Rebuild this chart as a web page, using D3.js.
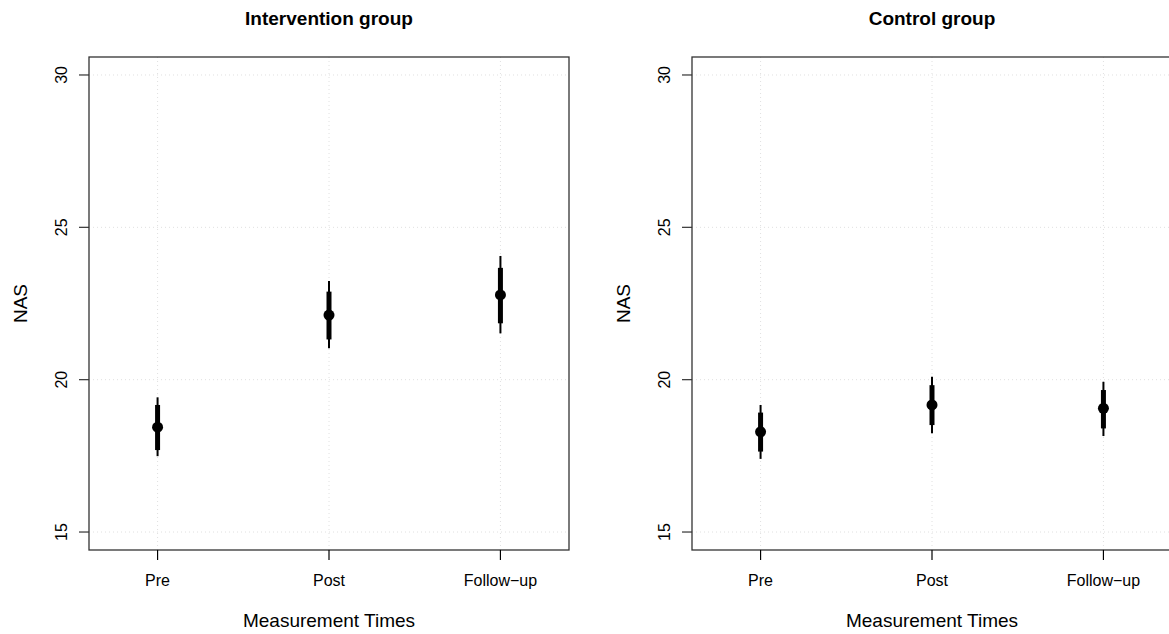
<!DOCTYPE html>
<html>
<head>
<meta charset="utf-8">
<script src="https://cdn.jsdelivr.net/npm/d3@7"></script>
<style>
    body { margin: 0; background: #fff; }
    svg text { font-family: "Liberation Sans", Arial, sans-serif; fill: #000; }
</style>
</head>
<body>
<svg id="chart" width="1169" height="634"></svg>
<script>
// measurement times (x categories)
const times = ["Pre", "Post", "Follow-up"];
const yTicks = [15, 20, 25, 30];

// group titles
const groups = ["Intervention group", "Control group"];

// point estimates
const means = [
    [18.44, 22.12, 22.78],
    [18.29, 19.17, 19.06]
];
// inner (thick) interval
const innerLo = [
    [17.69, 21.32, 21.85],
    [17.64, 18.51, 18.40]
];
const innerHi = [
    [19.17, 22.89, 23.67],
    [18.92, 19.82, 19.66]
];
// outer (thin) interval
const outerLo = [
    [17.49, 21.03, 21.52],
    [17.40, 18.24, 18.15]
];
const outerHi = [
    [19.42, 23.24, 24.06],
    [19.17, 20.10, 19.93]
];

const svg = d3.select('#chart');

const panelLeft = [89, 692];
const panelW = 480;
const plotTop = 57, plotBottom = 550;

function drawPanel(g) {
    const x0 = panelLeft[g];
    const x = d3.scaleLinear().domain([0.6, 3.4]).range([x0, x0 + panelW]);
    const y = d3.scaleLinear().domain([14.41, 30.59]).range([plotBottom, plotTop]);

    const p = svg.append('g');

    // grid (dotted)
    p.selectAll('line.gy').data(yTicks).enter().append('line')
        .attr('x1', x0).attr('x2', x0 + panelW)
        .attr('y1', d => y(d)).attr('y2', d => y(d))
        .style('stroke', '#e0e0e0').style('stroke-dasharray', '1,3');
    p.selectAll('line.gx').data(times).enter().append('line')
        .attr('x1', (d, i) => x(i + 1)).attr('x2', (d, i) => x(i + 1))
        .attr('y1', plotTop).attr('y2', plotBottom)
        .style('stroke', '#e0e0e0').style('stroke-dasharray', '1,3');

    // intervals
    const idx = d3.range(times.length);
    p.selectAll('line.outer').data(idx).enter().append('line')
        .attr('x1', i => x(i + 1)).attr('x2', i => x(i + 1))
        .attr('y1', i => y(outerLo[g][i])).attr('y2', i => y(outerHi[g][i]))
        .style('stroke', '#000').style('stroke-width', 2);
    p.selectAll('line.inner').data(idx).enter().append('line')
        .attr('x1', i => x(i + 1)).attr('x2', i => x(i + 1))
        .attr('y1', i => y(innerLo[g][i])).attr('y2', i => y(innerHi[g][i]))
        .style('stroke', '#000').style('stroke-width', 5);
    p.selectAll('circle').data(idx).enter().append('circle')
        .attr('cx', i => x(i + 1)).attr('cy', i => y(means[g][i]))
        .attr('r', 5.5).style('fill', '#000');

    // box
    p.append('rect')
        .attr('x', x0).attr('y', plotTop).attr('width', panelW).attr('height', plotBottom - plotTop)
        .style('fill', 'none').style('stroke', '#333').style('stroke-width', 1.3);

    // y axis
    p.selectAll('line.yt').data(yTicks).enter().append('line')
        .attr('x1', x0 - 10).attr('x2', x0)
        .attr('y1', d => y(d)).attr('y2', d => y(d))
        .style('stroke', '#333').style('stroke-width', 1.2);
    p.selectAll('text.yl').data(yTicks).enter().append('text')
        .attr('transform', d => 'translate(' + (x0 - 22) + ',' + y(d) + ') rotate(-90)')
        .attr('text-anchor', 'middle')
        .style('font-size', '16px')
        .text(d => d);

    // x axis
    p.selectAll('line.xt').data(times).enter().append('line')
        .attr('x1', (d, i) => x(i + 1)).attr('x2', (d, i) => x(i + 1))
        .attr('y1', plotBottom).attr('y2', plotBottom + 10)
        .style('stroke', '#000').style('stroke-width', 1.2);
    p.selectAll('text.xl').data(times).enter().append('text')
        .attr('x', (d, i) => x(i + 1)).attr('y', plotBottom + 36)
        .attr('text-anchor', 'middle')
        .style('font-size', '16px')
        .text(d => d.replace('-', '\u2212'));

    // titles
    p.append('text')
        .attr('x', x0 + panelW / 2).attr('y', 627)
        .attr('text-anchor', 'middle').style('font-size', '19px')
        .text('Measurement Times');
    p.append('text')
        .attr('transform', 'translate(' + (x0 - 62) + ',' + ((plotTop + plotBottom) / 2) + ') rotate(-90)')
        .attr('text-anchor', 'middle').style('font-size', '19px')
        .text('NAS');
    p.append('text')
        .attr('x', x0 + panelW / 2).attr('y', 25)
        .attr('text-anchor', 'middle').style('font-size', '19px').style('font-weight', 'bold')
        .text(groups[g]);
}

drawPanel(0);
drawPanel(1);
</script>
</body>
</html>
